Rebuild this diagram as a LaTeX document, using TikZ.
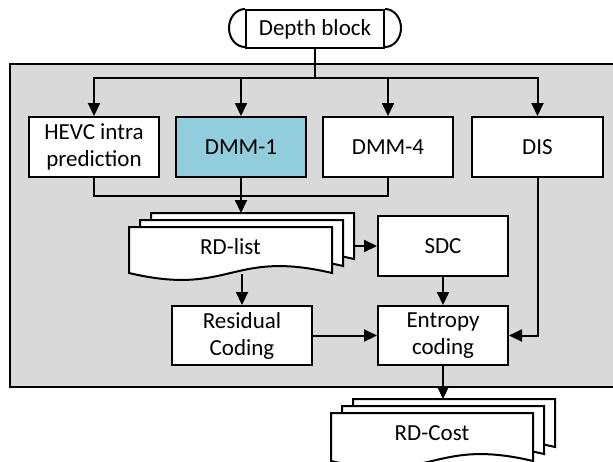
\documentclass[tikz,border=0pt]{standalone}
\usepackage{fontspec}
\setmainfont{Carlito}
\usetikzlibrary{arrows.meta}
\definecolor{panelgray}{RGB}{217,217,217}
\definecolor{dmmblue}{RGB}{146,205,221}
\tikzstyle{every path}=[line width=2pt]
\tikzstyle{block}=[draw, fill=white, align=center, inner sep=0pt,
    minimum width=130pt, minimum height=60pt, font=\fontsize{23}{27}\selectfont]
\tikzstyle{doclabel}=[inner sep=0pt, minimum width=203pt, minimum height=46pt,
    text depth=6pt, font=\fontsize{23}{27}\selectfont]
\tikzstyle{arrow}=[-{Triangle[length=13pt,width=12pt]}]

% stack of three document sheets: name, left, top, width, height (front sheet)
\newcommand{\docstack}[5]{%
    \foreach \k in {2,1,0}{
        \begin{scope}[shift={(#2+11*\k,#3-7*\k)}]
            \draw[fill=white] (0,0) -- (#4,0) -- (#4,#5)
                .. controls (#4/2,#5-24) and (#4/2,#5+24) .. (0,#5) -- cycle;
        \end{scope}}
    \coordinate (#1-top) at (#2+22,#3-14);
    \coordinate (#1-ne) at (#2+22+#4,#3-14);}

\begin{document}
\begin{tikzpicture}[x=1pt, y=-1pt]
            \useasboundingbox (0,0) rectangle (613,461);
            \draw[fill=panelgray] (10,64) rectangle (630,387);

            \node[block, minimum width=138pt, minimum height=38pt] (depth) at (315,29) {Depth block};
            \draw (depth.north west) arc[start angle=90, end angle=270, x radius=16pt, y radius=19pt];
            \draw (depth.north east) arc[start angle=90, end angle=-90, x radius=16pt, y radius=19pt];

            \node[block] (hevc) at (94,147) {HEVC intra\\prediction};
            \node[block, fill=dmmblue] (dmm1) at (241,147) {DMM-1};
            \node[block] (dmm4) at (388,147) {DMM-4};
            \node[block, minimum width=131pt] (dis) at (537.5,147) {DIS};

            \docstack{rdlist}{129}{227}{203}{46}
            \node[doclabel] (rdlist) at (230.5,250) {RD-list};

            \node[block] (sdc) at (443,246) {SDC};
            \node[block, minimum width=140pt, minimum height=59pt] (resid) at (242,335.5) {Residual\\Coding};
            \node[block, minimum height=59pt] (entropy) at (443,335.5) {Entropy\\coding};

            \docstack{rdcost}{331}{413}{202}{48}
            \node[doclabel] (rdcost) at (432,436) {RD-Cost};

            % fan-out from the depth block
            \coordinate (bus) at (depth.south |- 0,78);
            \draw (depth.south) -- (bus);
            \draw[arrow] (bus) -| (hevc.north);
            \draw[arrow] (bus) -| (dmm1.north);
            \draw[arrow] (bus) -| (dmm4.north);
            \draw[arrow] (bus) -| (dis.north);

            % modes into the RD-list
            \draw (hevc.south) -- ++(0,18) -| (dmm4.south);
            \draw[arrow] (dmm1.south) -- (dmm1.south |- rdlist-top);
            \draw[arrow] (sdc.west -| rdlist-ne) -- (sdc.west);
            \draw[arrow] (resid.north |- rdlist.south) -- (resid.north);

            \draw[arrow] (sdc) -- (entropy);
            \draw[arrow] (resid) -- (entropy);
            \draw[arrow] (dis.south) |- (entropy.east);
            \draw[arrow] (entropy.south) -- (entropy.south |- rdcost-top);
        \end{tikzpicture}
\end{document}
